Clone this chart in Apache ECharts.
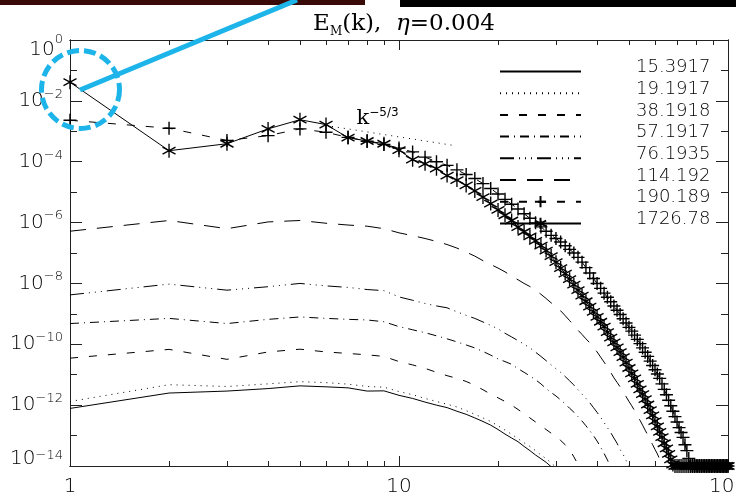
<!DOCTYPE html>
<html><head><meta charset="utf-8">
<script src="https://cdn.jsdelivr.net/npm/echarts@6/dist/echarts.min.js"></script>
<style>html,body{margin:0;padding:0;background:#fff}#c{width:736px;height:495px}</style>
</head><body><div id="c"></div>
<script>
// ---------------- data (index i  ->  wavenumber k = i + 1) ----------------
const seriesNames = ['15.3917','19.1917','38.1918','57.1917','76.1935','114.192','190.189','1726.78'];

const e15 = [7.8e-13,2.5e-12,2.9e-12,3.5e-12,4.3e-12,4.0e-12,3.7e-12,2.9e-12,2.95e-12,2.1e-12,
  1.66e-12,1.26e-12,1.0e-12,8.3e-13,6.3e-13,5.0e-13,3.8e-13,2.9e-13,2.2e-13,1.58e-13,
  1.12e-13,8.3e-14,6.3e-14,4.4e-14,3.2e-14,2.3e-14,1.74e-14,1.32e-14,9.5e-15,6.3e-15];

const e19 = [1.32e-12,4.7e-12,4.1e-12,5.0e-12,5.9e-12,5.5e-12,4.9e-12,4.1e-12,3.9e-12,2.8e-12,
  2.2e-12,1.66e-12,1.32e-12,1.07e-12,8.7e-13,6.6e-13,5.0e-13,3.8e-13,2.9e-13,2.1e-13,
  1.51e-13,1.1e-13,7.9e-14,5.8e-14,4.4e-14,3.2e-14,2.3e-14,1.74e-14,1.26e-14,9.1e-15,6.3e-15];

const e38 = [3.5e-11,6.8e-11,3.2e-11,5.6e-11,6.9e-11,5.6e-11,5.0e-11,4.5e-11,4.0e-11,2.7e-11,
  2.1e-11,1.62e-11,1.2e-11,9.3e-12,7.6e-12,6.0e-12,4.5e-12,3.2e-12,2.3e-12,1.74e-12,
  1.32e-12,1.0e-12,7.2e-13,5.2e-13,3.8e-13,2.8e-13,2.1e-13,1.58e-13,1.2e-13,8.9e-14,
  6.9e-14,5.0e-14,3.5e-14,2.0e-14,1.12e-14,6.3e-15];

const e57 = [4.8e-10,7.1e-10,4.8e-10,6.6e-10,7.9e-10,7.1e-10,6.6e-10,6.3e-10,5.5e-10,3.8e-10,
  3.0e-10,2.4e-10,1.9e-10,1.51e-10,1.2e-10,9.5e-11,7.6e-11,5.8e-11,4.4e-11,3.3e-11,
  2.7e-11,2.2e-11,1.58e-11,1.2e-11,9.1e-12,6.8e-12,5.0e-12,3.5e-12,2.6e-12,2.0e-12,
  1.48e-12,1.1e-12,7.9e-13,5.9e-13,4.2e-13,3.0e-13,2.1e-13,1.45e-13,1.0e-13,6.6e-14,
  4.2e-14,2.6e-14,1.58e-14,9.5e-15,5.6e-15];

const e76 = [4.2e-9,9.5e-9,6.0e-9,7.8e-9,1.0e-8,8.3e-9,7.4e-9,6.3e-9,5.8e-9,3.6e-9,
  2.8e-9,2.2e-9,1.82e-9,1.58e-9,1.17e-9,8.9e-10,7.1e-10,5.4e-10,4.2e-10,3.2e-10,
  2.3e-10,1.74e-10,1.32e-10,1.0e-10,7.6e-11,5.5e-11,4.0e-11,2.9e-11,2.1e-11,1.58e-11,
  1.2e-11,8.7e-12,6.3e-12,4.6e-12,3.2e-12,2.3e-12,1.66e-12,1.2e-12,8.3e-13,5.8e-13,
  4.0e-13,2.7e-13,1.82e-13,1.26e-13,8.3e-14,5.6e-14,3.5e-14,2.4e-14,1.51e-14,9.5e-15,5.6e-15];

const e114 = [5.2e-7,1.17e-6,6.3e-7,1.05e-6,1.17e-6,9.5e-7,8.3e-7,7.6e-7,6.3e-7,4.6e-7,
  3.7e-7,3.0e-7,2.4e-7,1.9e-7,1.45e-7,1.07e-7,7.9e-8,5.6e-8,4.2e-8,3.2e-8,
  2.4e-8,1.74e-8,1.32e-8,1.0e-8,7.9e-9,6.0e-9,4.4e-9,3.2e-9,2.3e-9,1.74e-9,
  1.26e-9,8.7e-10,6.0e-10,4.2e-10,2.9e-10,2.1e-10,1.51e-10,1.12e-10,7.9e-11,5.6e-11,
  3.8e-11,2.6e-11,1.78e-11,1.2e-11,7.9e-12,5.6e-12,4.0e-12,2.8e-12,1.91e-12,1.32e-12,
  9.5e-13,6.6e-13,4.6e-13,3.2e-13,2.2e-13,1.51e-13,1.05e-13,7.2e-14,5.0e-14,3.5e-14,
  2.5e-14,1.66e-14,1.1e-14,7.1e-15];

const e190 = [2.3e-3,1.26e-3,5.0e-4,7.2e-4,1.2e-3,9.3e-4,6.3e-4,4.7e-4,3.7e-4,2.8e-4,
  2.1e-4,1.41e-4,1.0e-4,7.6e-5,5.4e-5,3.8e-5,2.8e-5,1.91e-5,1.32e-5,8.7e-6,
  5.8e-6,4.0e-6,2.8e-6,1.95e-6,1.38e-6,9.8e-7,7.2e-7,5.2e-7,3.8e-7,3.0e-7,
  2.3e-7,1.74e-7,1.32e-7,1.0e-7,7.2e-8,5.0e-8,3.3e-8,2.2e-8,1.45e-8,1.0e-8,
  6.9e-9,4.8e-9,3.5e-9,2.5e-9,1.82e-9,1.32e-9,9.5e-10,6.9e-10,5.0e-10,3.6e-10,
  2.7e-10,2.0e-10,1.45e-10,1.05e-10,7.6e-11,5.5e-11,4.0e-11,2.8e-11,2.0e-11,1.45e-11,
  1.05e-11,7.6e-12,5.0e-12,3.3e-12,2.2e-12,1.45e-12,9.5e-13,6.3e-13,4.2e-13,2.8e-13,
  1.82e-13,1.26e-13,8.7e-14,5.0e-14,3.2e-14,1.78e-14,1e-14,1e-14,1e-14,1e-14,
  1e-14,1e-14,1e-14,1e-14,1e-14,1e-14,1e-14,1e-14,1e-14,1e-14,
  1e-14,1e-14,1e-14,1e-14,1e-14,1e-14,1e-14,1e-14,1e-14,1e-14];

const e1726 = [4.1e-2,2.3e-4,3.9e-4,1.2e-3,2.4e-3,1.66e-3,6.2e-4,4.8e-4,3.9e-4,2.4e-4,
  1.17e-4,8.5e-5,5.9e-5,3.5e-5,2.5e-5,1.66e-5,1.1e-5,6.9e-6,4.2e-6,2.6e-6,
  1.74e-6,1.17e-6,7.1e-7,5.0e-7,3.5e-7,2.5e-7,1.74e-7,1.2e-7,7.9e-8,5.0e-8,
  3.2e-8,2.1e-8,1.38e-8,9.1e-9,6.0e-9,4.0e-9,2.6e-9,1.74e-9,1.17e-9,7.9e-10,
  5.5e-10,3.8e-10,2.5e-10,1.66e-10,1.15e-10,7.9e-11,5.5e-11,3.8e-11,2.5e-11,1.66e-11,
  1.1e-11,7.6e-12,5.0e-12,3.3e-12,2.3e-12,1.58e-12,1.05e-12,6.9e-13,4.6e-13,3.0e-13,
  2.0e-13,1.32e-13,8.9e-14,5.6e-14,3.8e-14,2.5e-14,1.66e-14,1.12e-14,1e-14,1e-14,
  1e-14,1e-14,1e-14,1e-14,1e-14,1e-14,1e-14,1e-14,1e-14,1e-14,
  1e-14,1e-14,1e-14,1e-14,1e-14,1e-14,1e-14,1e-14,1e-14,1e-14,
  1e-14,1e-14,1e-14,1e-14,1e-14,1e-14,1e-14,1e-14,1e-14,1e-14];

// k^-5/3 reference segment (k, E)
const refK = [6, 14.6];
const refE = [1.55e-3, 3.45e-4];

const xMajorTicks = [1, 10, 100];
const xMinorTicks = [2,3,4,5,6,7,8,9,20,30,40,50,60,70,80,90];
const yMajorTicks = [1,1e-2,1e-4,1e-6,1e-8,1e-10,1e-12,1e-14];
const yMinorTicks = [1e-1,1e-3,1e-5,1e-7,1e-9,1e-11,1e-13];

// ---------------- chart ----------------
const SANS = '"DejaVu Sans", "Liberation Sans", sans-serif';
const SERIF = '"DejaVu Serif", "Liberation Serif", serif';
const INK = '#000';
const AX = '#222';

const pairs = arr => arr.map((v, i) => [i + 1, v]);

const STAR = 'path://M0,-10L0,10M-8.66,-5L8.66,5M-8.66,5L8.66,-5';
const PLUS = 'path://M-10,0L10,0M0,-10L0,10';

const dashTypes = ['solid', [1, 5], [8, 11], [9, 5, 1, 5], [14, 5, 1, 5, 1, 5, 1, 5], [16, 11], [8, 11], 'solid'];
const seriesData = [e15, e19, e38, e57, e76, e114, e190, e1726];

const series = seriesData.map((arr, i) => {
  const s = {
    name: seriesNames[i], type: 'line', data: pairs(arr),
    xAxisIndex: 0, yAxisIndex: 0, clip: true,
    symbol: 'none', animation: false, silent: true,
    lineStyle: {color: '#000', width: 1, type: dashTypes[i]},
    itemStyle: {color: '#000'}
  };
  if (i === 6 || i === 7) {
    s.symbol = i === 6 ? PLUS : STAR;
    s.symbolSize = i === 6 ? 13 : [13, 14];
    s.showAllSymbol = true;
    s.itemStyle = {color: '#000', borderColor: '#000', borderWidth: 1.4};
  }
  return s;
});

series.push({
  name: 'ref', type: 'line', data: refK.map((k, i) => [k, refE[i]]),
  xAxisIndex: 0, yAxisIndex: 0, symbol: 'none', animation: false, silent: true,
  lineStyle: {color: '#000', width: 1, type: [1, 5]},
  markPoint: {
    symbol: 'circle', symbolSize: 1, itemStyle: {color: 'rgba(0,0,0,0)'},
    animation: false,
    data: [{coord: [refK[0], refE[0]],
      label: {show: true, position: 'right', distance: 30, offset: [0, -7],
        formatter: '{k|k}{s|−5/3}',
        rich: {
          k: {fontFamily: SERIF, fontSize: 21, color: INK, lineHeight: 24, verticalAlign: 'middle'},
          s: {fontFamily: SANS, fontSize: 12, color: INK, lineHeight: 12, verticalAlign: 'top'}
        }}}]
  }
});

function xAxis(pos, ticks, len, labels) {
  return {
    type: 'log', logBase: 10, min: 1, max: 100, position: pos, gridIndex: 0,
    axisLine: {show: true, lineStyle: {color: AX, width: 1}},
    axisTick: {show: true, inside: true, length: len, customValues: ticks, lineStyle: {color: AX}},
    axisLabel: labels ? {show: true, customValues: ticks, margin: 11, fontFamily: SANS, fontWeight: 200,
      fontSize: 20, color: INK, formatter: v => String(Math.round(v))} : {show: false},
    splitLine: {show: false}, minorTick: {show: false}
  };
}
const lb = {fontFamily: SANS, fontWeight: 200, color: INK};
function yAxis(pos, ticks, len, labels) {
  return {
    type: 'log', logBase: 10, min: 1e-14, max: 1, position: pos, gridIndex: 0,
    axisLine: {show: true, lineStyle: {color: AX, width: 1}},
    axisTick: {show: true, inside: true, length: len, customValues: ticks, lineStyle: {color: AX}},
    axisLabel: labels ? {show: true, customValues: ticks, margin: 7,
      formatter: v => {
        const e = Math.round(Math.log10(v));
        const ex = String(e).replace('-', '−');
        if (e === 0) return '{sp| }{bt|10}{st|' + ex + '}';
        if (e === -14) return '{sq| }{bu|10}{su|' + ex + '}';
        return '{bm|10}{sm|' + ex + '}';
      },
      rich: {
        sp: Object.assign({fontSize: 4, lineHeight: 40, verticalAlign: 'middle'}, lb),
        sq: Object.assign({fontSize: 4, lineHeight: 34, verticalAlign: 'middle'}, lb),
        bm: Object.assign({fontSize: 20, lineHeight: 26, verticalAlign: 'middle'}, lb),
        sm: Object.assign({fontSize: 13, lineHeight: 14, verticalAlign: 'top'}, lb),
        bt: Object.assign({fontSize: 20, lineHeight: 26, verticalAlign: 'bottom'}, lb),
        st: Object.assign({fontSize: 13, lineHeight: 14, verticalAlign: 'middle'}, lb),
        bu: Object.assign({fontSize: 20, lineHeight: 26, verticalAlign: 'top'}, lb),
        su: Object.assign({fontSize: 13, lineHeight: 14, verticalAlign: 'top'}, lb)
      }} : {show: false},
    splitLine: {show: false}, minorTick: {show: false}
  };
}

const option = {
  backgroundColor: '#fff',
  animation: false,
  grid: {left: 70, right: 8, top: 40, bottom: 29, containLabel: false, outerBoundsMode: 'none'},
  title: {
    text: '{e|E}{m|M}{p|(k),  }{g|η}{p|=0.004}',
    left: 399, top: 5, textAlign: 'center',
    textStyle: {
      fontWeight: 'normal',
      rich: {
        e: {fontFamily: SERIF, fontWeight: 'normal', fontSize: 23, color: INK, lineHeight: 28, verticalAlign: 'middle'},
        m: {fontFamily: SERIF, fontWeight: 'normal', fontSize: 12, color: INK, lineHeight: 12, verticalAlign: 'bottom'},
        p: {fontFamily: SERIF, fontWeight: 'normal', fontSize: 23, color: INK, lineHeight: 28, verticalAlign: 'middle'},
        g: {fontFamily: SERIF, fontWeight: 'normal', fontStyle: 'italic', fontSize: 23, color: INK, lineHeight: 28, verticalAlign: 'middle'}
      }
    }
  },
  legend: {
    orient: 'vertical', left: 494, top: 53.5, itemWidth: 81, itemHeight: 14, itemGap: -4.3,
    selectedMode: false,
    data: seriesNames.map((n, i) => i < 6 ? {name: n, itemStyle: {opacity: 0}} : {name: n}),
    formatter: '{t|{name}}',
    textStyle: {
      padding: [0, 0, 0, 50],
      rich: {t: {fontFamily: SANS, fontWeight: 200, fontSize: 18, color: INK, lineHeight: 14, padding: [0, 0, 8, 0]}}
    }
  },
  xAxis: [
    xAxis('bottom', xMajorTicks, 10, true),
    xAxis('bottom', xMinorTicks, 5, false),
    xAxis('top', xMajorTicks, 10, false),
    xAxis('top', xMinorTicks, 5, false)
  ],
  yAxis: [
    yAxis('left', yMajorTicks, 12, true),
    yAxis('left', yMinorTicks, 7, false),
    yAxis('right', yMajorTicks, 12, false),
    yAxis('right', yMinorTicks, 7, false)
  ],
  series: series,
  graphic: [
    // mask below the frame: IDL clips the floor markers at the axis
    {type: 'rect', shape: {x: 640, y: 467, width: 96, height: 8}, style: {fill: '#fff'}, z: 3},
    {type: 'rect', shape: {x: 0, y: 0, width: 365, height: 5}, style: {fill: '#3a0a08'}, z: 100},
    {type: 'rect', shape: {x: 400, y: 0, width: 336, height: 7}, style: {fill: '#000'}, z: 100},
    {type: 'line', shape: {x1: 80, y1: 90, x2: 297, y2: 0}, style: {stroke: '#1db4ea', lineWidth: 5}, z: 100},
    {type: 'circle', shape: {cx: 80.5, cy: 89.5, r: 39}, style: {fill: 'none', stroke: '#1db4ea', lineWidth: 5, lineDash: [12, 5]}, z: 100}
  ]
};

const chart = echarts.init(document.getElementById('c'), null, {renderer: 'canvas'});
chart.setOption(option);
</script>
</body></html>
